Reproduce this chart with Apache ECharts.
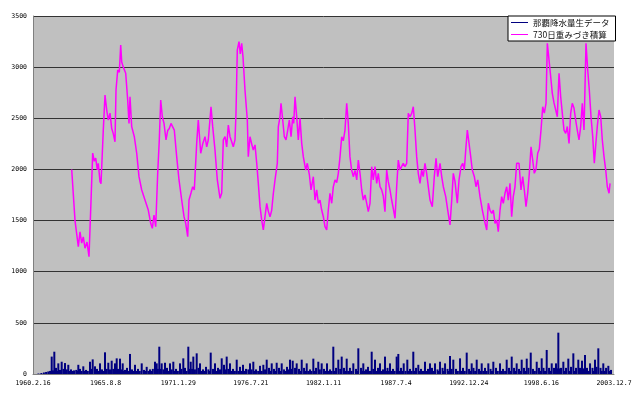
<!DOCTYPE html>
<html>
<head>
<meta charset="utf-8">
<script src="https://cdn.jsdelivr.net/npm/echarts@6/dist/echarts.min.js"></script>
<style>
html,body{margin:0;padding:0;background:#fff;}
#chart{width:640px;height:397px;}
</style>
</head>
<body>
<div id="chart"></div>
<script>
// x tick labels (every 2000 days from 1960.2.16)
var xTickLabels = ['1960.2.16','1965.8.8','1971.1.29','1976.7.21','1982.1.11','1987.7.4','1992.12.24','1998.6.16','2003.12.7'];
var yTicks = [0,500,1000,1500,2000,2500,3000,3500];
var seriesNames = ['那覇降水量生データ','730日重みづき積算'];

// 730-day weighted accumulation: [day index from 1960.2.16, value]
var cumSeries = [[1066,2000],[1157,1500],[1248,1245],[1294,1390],[1341,1280],[1385,1340],[1432,1230],[1487,1290],[1542,1147],[1597,1685],[1644,2160],[1688,2080],[1727,2110],[1771,1995],[1798,2060],[1845,1880],[1873,1860],[1936,2385],[1983,2727],[2030,2580],[2074,2483],[2121,2550],[2167,2400],[2211,2350],[2258,2270],[2286,2776],[2333,2972],[2377,2950],[2415,3216],[2443,3050],[2487,3000],[2553,2940],[2608,2678],[2644,2450],[2671,2710],[2718,2418],[2790,2320],[2856,2158],[2919,1929],[2994,1799],[3084,1701],[3175,1603],[3241,1473],[3286,1424],[3332,1554],[3379,1440],[3434,1962],[3478,2288],[3517,2679],[3561,2515],[3608,2450],[3663,2288],[3709,2380],[3754,2400],[3800,2450],[3847,2460],[3891,2385],[3957,2125],[4021,1897],[4095,1701],[4159,1538],[4206,1473],[4260,1342],[4296,1701],[4351,1770],[4398,1831],[4442,1800],[4508,2255],[4552,2483],[4619,2158],[4674,2250],[4737,2320],[4784,2220],[4828,2290],[4902,2613],[4949,2418],[5012,2190],[5076,1897],[5150,1718],[5197,1770],[5241,2288],[5288,2320],[5334,2220],[5379,2434],[5425,2320],[5472,2270],[5516,2222],[5563,2290],[5590,2548],[5626,3167],[5673,3249],[5709,3130],[5747,3233],[5783,3102],[5838,2776],[5902,2483],[5929,2125],[5976,2320],[6022,2250],[6066,2190],[6114,2240],[6161,2060],[6205,1864],[6252,1636],[6298,1506],[6343,1408],[6389,1538],[6436,1669],[6481,1590],[6527,1538],[6573,1600],[6619,1767],[6665,1897],[6728,2060],[6756,2418],[6802,2515],[6830,2646],[6877,2483],[6921,2320],[6968,2288],[7015,2385],[7059,2483],[7106,2320],[7152,2515],[7180,2450],[7216,2711],[7262,2515],[7306,2288],[7353,2499],[7400,2255],[7444,2125],[7510,1994],[7554,2060],[7610,1950],[7656,1799],[7720,1929],[7766,1701],[7813,1800],[7857,1669],[7904,1700],[7950,1603],[7994,1540],[8041,1440],[8088,1408],[8132,1603],[8179,1767],[8226,1669],[8270,1830],[8317,1897],[8364,1870],[8408,1962],[8455,2125],[8501,2320],[8545,2280],[8592,2385],[8639,2646],[8683,2450],[8728,2125],[8775,1994],[8821,1929],[8868,1990],[8915,1897],[8959,2092],[9006,1960],[9052,1799],[9096,1701],[9143,1750],[9190,1669],[9234,1587],[9281,1669],[9327,2027],[9371,1897],[9418,2027],[9465,1864],[9509,1962],[9556,1831],[9602,1800],[9646,1740],[9693,1587],[9740,1994],[9784,1880],[9831,1799],[9877,1701],[9921,1620],[9969,1522],[10015,1831],[10060,2092],[10107,1994],[10153,2030],[10197,2060],[10244,2027],[10291,2060],[10335,2548],[10382,2515],[10429,2548],[10473,2613],[10520,2385],[10566,2125],[10610,1962],[10657,1864],[10703,1994],[10748,1929],[10795,2060],[10841,1962],[10886,1831],[10933,1701],[10996,1636],[11051,1929],[11099,2108],[11145,1929],[11209,2060],[11255,1930],[11300,1831],[11366,1734],[11421,1603],[11484,1457],[11531,1701],[11575,1962],[11622,1880],[11685,1669],[11732,1897],[11787,2027],[11834,2060],[11878,1994],[11917,2190],[11961,2385],[12008,2255],[12054,2125],[12098,1994],[12154,1929],[12200,1831],[12247,1897],[12310,1734],[12374,1603],[12429,1506],[12495,1408],[12539,1669],[12586,1600],[12633,1571],[12677,1603],[12724,1473],[12770,1506],[12814,1391],[12861,1603],[12907,1734],[12951,1669],[12998,1767],[13045,1831],[13089,1700],[13136,1864],[13182,1538],[13226,1734],[13273,1830],[13320,2060],[13384,2060],[13439,1799],[13486,1930],[13530,1800],[13577,1636],[13624,1770],[13668,1962],[13715,2222],[13761,2092],[13805,1962],[13852,2000],[13899,2158],[13943,2200],[13990,2385],[14037,2613],[14081,2550],[14128,2646],[14164,3233],[14211,3070],[14257,2906],[14301,2744],[14348,2650],[14395,2581],[14439,2515],[14486,2940],[14532,2711],[14576,2550],[14623,2385],[14670,2353],[14714,2420],[14761,2255],[14807,2548],[14851,2646],[14898,2600],[14945,2483],[14989,2385],[15036,2288],[15083,2420],[15127,2646],[15174,2385],[15201,2800],[15229,3233],[15276,2972],[15320,2776],[15367,2515],[15414,2320],[15458,2060],[15499,2250],[15540,2418],[15587,2581],[15634,2515],[15678,2288],[15725,2125],[15772,1994],[15816,1831],[15863,1767],[15891,1864]];

// raw Naha rainfall (sampled daily values): [day index, mm]
var rainSeries = [[150,5],[230,10],[300,15],[360,20],[420,25],[470,30],[515,170],[550,35],[587,218],[633,60],[665,30],[697,104],[744,40],[770,30],[790,120],[840,50],[881,107],[930,45],[972,90],[1010,30],[1047,45],[1090,30],[1129,35],[1190,40],[1220,30],[1248,90],[1294,50],[1340,30],[1385,75],[1420,30],[1460,40],[1510,30],[1570,120],[1600,50],[1644,143],[1708,75],[1763,50],[1800,30],[1845,104],[1900,45],[1940,30],[1983,212],[2030,50],[2074,110],[2120,45],[2167,130],[2210,50],[2258,104],[2305,153],[2341,50],[2396,150],[2430,45],[2470,104],[2500,30],[2534,40],[2589,60],[2630,30],[2671,196],[2726,45],[2770,30],[2809,90],[2850,30],[2892,50],[2940,30],[2994,104],[3057,40],[3095,30],[3131,70],[3180,30],[3222,45],[3260,30],[3300,50],[3360,120],[3407,104],[3440,50],[3478,267],[3510,50],[3544,104],[3590,45],[3635,110],[3690,60],[3730,30],[3773,104],[3820,45],[3864,120],[3900,30],[3938,50],[3990,30],[4048,104],[4090,50],[4139,153],[4186,60],[4230,30],[4277,267],[4310,50],[4343,120],[4380,50],[4415,170],[4460,45],[4508,202],[4558,60],[4599,104],[4640,30],[4682,45],[4720,30],[4764,70],[4830,45],[4860,30],[4894,209],[4957,50],[5012,104],[5050,30],[5095,60],[5150,45],[5197,153],[5260,90],[5300,45],[5334,170],[5380,50],[5425,104],[5465,30],[5508,50],[5560,30],[5610,140],[5655,30],[5701,70],[5740,30],[5783,90],[5825,30],[5866,50],[5930,45],[5976,104],[6020,45],[6067,120],[6100,30],[6141,45],[6200,30],[6252,80],[6300,30],[6343,90],[6390,45],[6436,140],[6499,60],[6540,30],[6574,104],[6637,50],[6675,30],[6711,110],[6775,60],[6810,30],[6849,104],[6913,45],[6950,30],[6995,70],[7040,45],[7078,140],[7115,50],[7152,130],[7216,60],[7262,104],[7326,50],[7360,30],[7400,140],[7464,60],[7500,30],[7538,104],[7580,30],[7629,45],[7670,30],[7720,150],[7760,30],[7794,60],[7857,120],[7900,45],[7950,104],[8014,50],[8055,30],[8097,104],[8140,30],[8179,45],[8225,30],[8270,267],[8310,30],[8345,60],[8408,140],[8460,50],[8501,170],[8565,60],[8600,30],[8639,150],[8680,30],[8728,60],[8775,30],[8821,104],[8895,50],[8930,30],[8959,251],[9033,60],[9065,30],[9096,104],[9135,30],[9170,45],[9226,70],[9280,30],[9327,218],[9370,50],[9418,140],[9460,30],[9501,60],[9556,104],[9600,30],[9639,45],[9693,170],[9730,30],[9763,60],[9800,30],[9831,104],[9870,30],[9914,50],[9960,30],[10015,170],[10040,60],[10060,196],[10100,30],[10135,60],[10170,30],[10209,104],[10260,30],[10308,140],[10345,30],[10382,50],[10430,30],[10473,218],[10510,30],[10548,60],[10611,90],[10650,30],[10685,50],[10740,30],[10795,120],[10840,30],[10878,50],[10933,104],[10988,60],[11030,30],[11071,104],[11140,45],[11175,30],[11209,120],[11278,60],[11310,30],[11347,104],[11416,50],[11450,30],[11484,176],[11530,50],[11575,140],[11649,50],[11700,30],[11760,153],[11800,30],[11842,60],[11890,30],[11944,209],[12008,50],[12045,30],[12081,104],[12131,60],[12175,30],[12219,140],[12283,50],[12320,30],[12357,104],[12400,30],[12448,60],[12490,30],[12539,104],[12600,50],[12640,30],[12677,120],[12751,60],[12800,30],[12861,104],[12900,30],[12944,50],[13000,30],[13045,140],[13109,60],[13145,30],[13183,170],[13247,60],[13285,30],[13320,104],[13384,50],[13420,30],[13458,140],[13522,60],[13560,30],[13597,150],[13646,60],[13707,209],[13770,50],[13820,30],[13872,120],[13935,60],[13970,30],[14009,153],[14059,60],[14100,30],[14147,235],[14211,60],[14250,30],[14285,104],[14348,60],[14403,104],[14440,55],[14467,404],[14500,55],[14541,60],[14605,120],[14640,30],[14678,60],[14742,150],[14780,30],[14816,70],[14880,202],[14920,30],[14954,60],[15017,140],[15064,60],[15119,130],[15160,55],[15201,186],[15257,60],[15300,30],[15340,104],[15408,60],[15440,30],[15477,140],[15518,70],[15568,251],[15629,60],[15665,30],[15705,104],[15740,30],[15781,60],[15844,80],[15880,30],[15918,40]];

var chart = echarts.init(document.getElementById('chart'), null, {renderer:'canvas'});
var mono = '"DejaVu Sans Mono", monospace';
chart.setOption({
  animation: false,
  backgroundColor: '#ffffff',
  grid: {left: 33, right: 26, top: 16, bottom: 23, show: true, backgroundColor: '#c0c0c0', borderWidth: 0},
  legend: {
    orient: 'vertical',
    left: 508, top: 16,
    backgroundColor: '#ffffff',
    borderColor: '#000000', borderWidth: 1,
    padding: [1, 6, 1, 3],
    itemGap: 1,
    itemWidth: 17, itemHeight: 1,
    icon: 'rect',
    textStyle: {fontSize: 8.5, color: '#111', fontFamily: '"Noto Sans CJK JP", sans-serif', lineHeight: 11},
    data: seriesNames
  },
  xAxis: {
    type: 'value', min: 0, max: 16000, interval: 2000,
    axisLine: {show: true, lineStyle: {color: '#808080', width: 1}},
    axisTick: {show: false},
    splitLine: {show: false},
    axisLabel: {
      fontSize: 6.5, fontFamily: mono, color: '#000', margin: 6,
      formatter: function (v) { return xTickLabels[Math.round(v / 2000)]; }
    }
  },
  yAxis: {
    type: 'value', min: yTicks[0], max: yTicks[yTicks.length - 1], interval: 500,
    axisLine: {show: true, lineStyle: {color: '#808080', width: 1}},
    axisTick: {show: false},
    splitLine: {show: true, lineStyle: {color: '#333333', width: 1}},
    axisLabel: {fontSize: 6.5, fontFamily: mono, color: '#000', margin: 6,
      formatter: function (v) { return String(v); }}
  },
  series: [
    {
      name: seriesNames[0], type: 'bar', data: rainSeries,
      barWidth: 2, z: 2, large: false,
      itemStyle: {color: '#000080'}
    },
    {
      name: seriesNames[1], type: 'line', data: cumSeries,
      symbol: 'none', z: 3,
      lineStyle: {color: '#ff00ff', width: 1.5},
      itemStyle: {color: '#ff00ff'}
    }
  ]
});
</script>
</body>
</html>
